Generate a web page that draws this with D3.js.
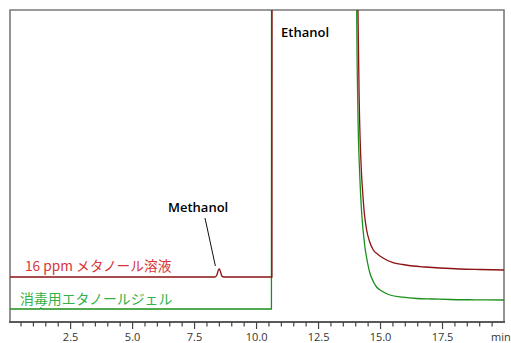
<!DOCTYPE html>
<html>
<head>
<meta charset="utf-8">
<script src="https://cdn.jsdelivr.net/npm/d3@7"></script>
<style>
  body { margin: 0; background: #fff; }
  svg { display: block; }
</style>
</head>
<body>
<svg width="511" height="343"></svg>
<script>
// retention time (min) and detector signal (arb. units)
const methanolTime = [0.06, 4.5, 8.32, 8.40, 8.46, 8.50, 8.56, 8.60, 8.68, 10.62, 10.63, 14.0, 14.09, 14.14, 14.23, 14.28, 14.35, 14.44, 14.55, 14.71, 14.90, 15.10, 15.50, 15.90, 16.31, 16.80, 17.40, 18.20, 19.01, 19.98];
const methanolSignal = [45, 45, 45, 47, 52, 53, 49, 46, 45, 45, 700, 700, 312, 222, 150, 130, 108, 92, 81, 72, 67.5, 64, 59.3, 57.5, 56, 55, 54, 53, 52.5, 52];

const gelTime = [0.06, 1.27, 1.30, 1.33, 5.0, 10.60, 10.61, 14.0, 14.04, 14.08, 14.17, 14.24, 14.37, 14.47, 14.57, 14.70, 14.84, 15.05, 15.38, 15.90, 16.46, 17.10, 17.80, 18.80, 19.98];
const gelSignal = [13, 13, 14, 13, 13, 13, 700, 700, 312, 222, 142, 109, 75, 60, 49, 41, 35, 31, 27, 24.8, 23.5, 23, 22.5, 22.2, 22];

const majorTicks = [2.5, 5.0, 7.5, 10.0, 12.5, 15.0, 17.5];
const tickLabels = ["2.5", "5.0", "7.5", "10.0", "12.5", "15.0", "17.5"];
const minorTicks = d3.range(1, 40).map(i => i * 0.5);

const seriesNames = ["16 ppm メタノール溶液", "消毒用エタノールジェル"];
const peakNames = ["Methanol", "Ethanol"];

const svg = d3.select("svg");
const plot = { left: 10, right: 504, top: 10, bottom: 322 };

const x = d3.scaleLinear().domain([0.056, 19.98]).range([plot.left, plot.right]);
const y = d3.scaleLinear().domain([0, 312]).range([plot.bottom, plot.top]);

svg.append("defs").append("clipPath").attr("id", "plot")
    .append("rect").attr("x", plot.left).attr("y", plot.top)
    .attr("width", plot.right - plot.left).attr("height", plot.bottom - plot.top);

// frame (top, left, right)
svg.append("path")
    .attr("d", `M${plot.left},${plot.bottom}V${plot.top}H${plot.right}V${plot.bottom}`)
    .attr("fill", "none")
    .attr("stroke", "#7a7a7a")
    .attr("stroke-width", 1.6);

const line = d3.line()
    .x(d => x(d[0]))
    .y(d => y(d[1]))
    .curve(d3.curveMonotoneX);

const traces = svg.append("g").attr("clip-path", "url(#plot)");

traces.append("path")
    .datum(d3.zip(gelTime, gelSignal))
    .attr("d", line)
    .attr("fill", "none")
    .attr("stroke", "#1b8f1b")
    .attr("stroke-width", 1.3);

traces.append("path")
    .datum(d3.zip(methanolTime, methanolSignal))
    .attr("d", line)
    .attr("fill", "none")
    .attr("stroke", "#8a1313")
    .attr("stroke-width", 1.3);

// x axis
const axis = svg.append("g");
axis.append("line")
    .attr("x1", plot.left - 1).attr("x2", plot.right + 1)
    .attr("y1", plot.bottom).attr("y2", plot.bottom)
    .attr("stroke", "#5a5a5a").attr("stroke-width", 1.8);

axis.selectAll(".minor")
    .data(minorTicks)
    .join("line")
    .attr("x1", d => x(d)).attr("x2", d => x(d))
    .attr("y1", plot.bottom).attr("y2", d => majorTicks.includes(d) ? plot.bottom + 7 : plot.bottom + 4.5)
    .attr("stroke", "#444").attr("stroke-width", 1.2);

axis.selectAll(".lbl")
    .data(majorTicks)
    .join("text")
    .attr("x", d => x(d))
    .attr("y", 341)
    .attr("text-anchor", "middle")
    .attr("font-family", "Open Sans, sans-serif")
    .attr("font-size", 11)
    .attr("fill", "#333")
    .text((d, i) => tickLabels[i]);

axis.append("text")
    .attr("x", 491).attr("y", 341)
    .attr("font-family", "Open Sans, sans-serif")
    .attr("font-size", 11)
    .attr("fill", "#333")
    .text("min");

// series labels
svg.append("text")
    .attr("x", 25).attr("y", 271)
    .attr("font-family", "Noto Sans CJK JP, sans-serif")
    .attr("font-size", 13.7)
    .attr("fill", "#d6363c")
    .text(seriesNames[0]);

svg.append("text")
    .attr("x", 20).attr("y", 304)
    .attr("font-family", "Noto Sans CJK JP, sans-serif")
    .attr("font-size", 13.9)
    .attr("fill", "#32b04a")
    .text(seriesNames[1]);

// peak annotations
svg.append("text")
    .attr("x", 168).attr("y", 212)
    .attr("font-family", "Open Sans, sans-serif")
    .attr("font-weight", 600)
    .attr("font-size", 13)
    .attr("fill", "#000")
    .text(peakNames[0]);

svg.append("line")
    .attr("x1", 205).attr("y1", 218)
    .attr("x2", x(8.40) - 1.5).attr("y2", y(53) - 3)
    .attr("stroke", "#111").attr("stroke-width", 1);

svg.append("text")
    .attr("x", 281).attr("y", 37)
    .attr("font-family", "Open Sans, sans-serif")
    .attr("font-weight", 600)
    .attr("font-size", 13)
    .attr("fill", "#000")
    .text(peakNames[1]);
</script>
</body>
</html>
